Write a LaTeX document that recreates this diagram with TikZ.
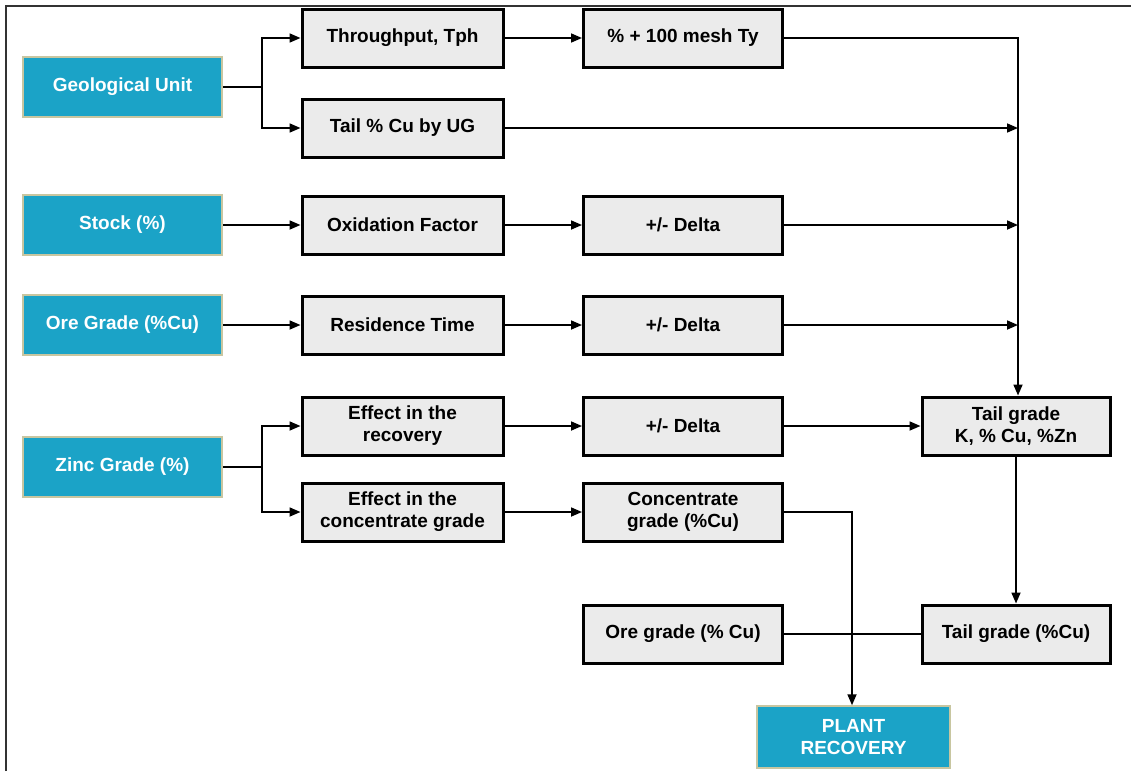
\documentclass[tikz,border=0pt]{standalone}
\usepackage{fontspec}
\setmainfont{Liberation Sans}
\usetikzlibrary{arrows.meta}
\definecolor{boxblue}{RGB}{27,163,199}
\definecolor{blueedge}{RGB}{200,198,160}
\definecolor{boxgray}{RGB}{235,235,235}
\begin{document}
\begin{tikzpicture}[x=1pt,y=-1pt,
  every node/.style={font=\fontsize{19}{22}\selectfont\bfseries, align=center, inner sep=0pt},
  inbox/.style={fill=boxblue, draw=blueedge, line width=1.5pt, text=white, minimum width=199pt, minimum height=60pt},
  graybox/.style={fill=boxgray, draw=black, line width=3pt, minimum width=199pt, minimum height=58pt},
  conn/.style={draw=black, line width=1.7pt},
  arr/.style={conn, -{Triangle[length=11pt,width=9pt]}}]
\useasboundingbox (0,0) rectangle (1131,771);
\draw[line width=1.2pt, black!80] (6,771) -- (6,6) -- (1131,6);
% input nodes
\node[inbox] (geo) at (122.5,87) {Geological Unit};
\node[inbox] (stock) at (122.5,225) {Stock (\%)};
\node[inbox] (ore) at (122.5,325) {Ore Grade (\%Cu)};
\node[inbox] (zinc) at (122.5,467) {Zinc Grade (\%)};
% column 2
\node[graybox, minimum width=201pt] (thr) at (402.5,38) {Throughput, Tph};
\node[graybox, minimum width=201pt] (tail) at (402.5,128) {Tail \% Cu by UG};
\node[graybox, minimum width=201pt] (oxi) at (402.5,225) {Oxidation Factor};
\node[graybox, minimum width=201pt] (res) at (402.5,325) {Residence Time};
\node[graybox, minimum width=201pt] (effr) at (402.5,426) {Effect in the\\recovery};
\node[graybox, minimum width=201pt] (effc) at (402.5,512) {Effect in the\\concentrate grade};
% column 3
\node[graybox] (mesh) at (683,38) {\% + 100 mesh Ty};
\node[graybox] (d1) at (683,225) {+/- Delta};
\node[graybox] (d2) at (683,325) {+/- Delta};
\node[graybox] (d3) at (683,426) {+/- Delta};
\node[graybox] (conc) at (683,512) {Concentrate\\grade (\%Cu)};
\node[graybox] (oreg) at (683,634) {Ore grade (\% Cu)};
% column 4
\node[graybox, minimum width=188pt] (tk) at (1016,426) {Tail grade\\K, \% Cu, \%Zn};
\node[graybox, minimum width=188pt] (tcu) at (1016,634) {Tail grade (\%Cu)};
\node[inbox, minimum width=193pt, minimum height=62pt] (plant) at (853.5,737) {PLANT\\RECOVERY};
% junction coordinates
\coordinate (gj) at (262,87);
\coordinate (zj) at (262,467);
\coordinate (bus) at (1018,38);
\coordinate (ctop) at (852,512);
% connectors
\draw[conn] (geo.east) -- (gj);
\draw[arr] (gj) |- (thr.west);
\draw[arr] (gj) |- (tail.west);
\draw[arr] (thr.east) -- (mesh.west);
\draw[arr] (mesh.east) -- (bus) -- (tk.north -| bus);
\draw[arr] (tail.east) -- (tail.east -| bus);
\draw[arr] (stock.east) -- (oxi.west);
\draw[arr] (oxi.east) -- (d1.west);
\draw[arr] (d1.east) -- (d1.east -| bus);
\draw[arr] (ore.east) -- (res.west);
\draw[arr] (res.east) -- (d2.west);
\draw[arr] (d2.east) -- (d2.east -| bus);
\draw[conn] (zinc.east) -- (zj);
\draw[arr] (zj) |- (effr.west);
\draw[arr] (zj) |- (effc.west);
\draw[arr] (effr.east) -- (d3.west);
\draw[arr] (d3.east) -- (tk.west);
\draw[arr] (effc.east) -- (conc.west);
\draw[arr] (conc.east) -- (ctop) -- (plant.north -| ctop);
\draw[arr] (tk.south) -- (tcu.north);
\draw[conn] (oreg.east) -- (tcu.west);
\end{tikzpicture}
\end{document}
